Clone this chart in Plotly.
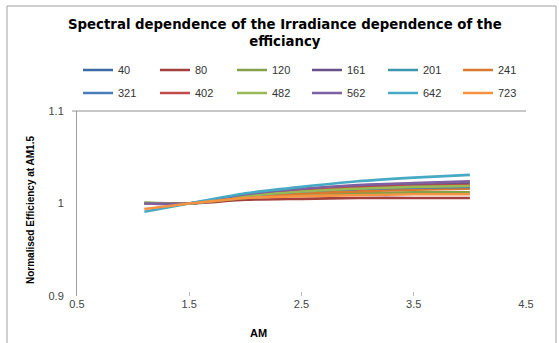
import plotly.graph_objects as go

# ---- data ----
air_mass = [1.1, 1.5, 2.0, 2.5, 3.0, 3.5, 4.0]
series_names = ["40", "80", "120", "161", "201", "241",
                "321", "402", "482", "562", "642", "723"]
eff_40  = [1.000, 1.000, 1.008, 1.012, 1.015, 1.016, 1.017]
eff_80  = [1.000, 1.000, 1.004, 1.005, 1.006, 1.006, 1.006]
eff_120 = [1.001, 1.000, 1.006, 1.009, 1.011, 1.012, 1.012]
eff_161 = [1.000, 1.000, 1.009, 1.014, 1.018, 1.020, 1.022]
eff_201 = [1.000, 1.000, 1.008, 1.013, 1.016, 1.018, 1.019]
eff_241 = [1.000, 1.000, 1.007, 1.011, 1.013, 1.015, 1.016]
eff_321 = [1.000, 1.000, 1.008, 1.013, 1.016, 1.017, 1.018]
eff_402 = [1.000, 1.000, 1.009, 1.014, 1.017, 1.019, 1.020]
eff_482 = [1.000, 1.000, 1.008, 1.013, 1.016, 1.018, 1.019]
eff_562 = [1.000, 1.000, 1.010, 1.016, 1.020, 1.022, 1.024]
eff_642 = [0.991, 1.000, 1.011, 1.018, 1.024, 1.028, 1.031]
eff_723 = [0.994, 1.000, 1.006, 1.008, 1.009, 1.010, 1.010]
all_series = [eff_40, eff_80, eff_120, eff_161, eff_201, eff_241,
              eff_321, eff_402, eff_482, eff_562, eff_642, eff_723]
x_ticks = [0.5, 1.5, 2.5, 3.5, 4.5]
y_ticks = [0.9, 1.0, 1.1]
y_tick_labels = ["0.9", "1", "1.1"]

colors = ["#3C6AA5", "#A3403D", "#83A04A", "#6A5189", "#3A95AD", "#D9782F",
          "#4A7EBB", "#BE4B48", "#98B954", "#7D60A0", "#46AAC5", "#F69240"]

W, H = 559, 343
L, R, T, B = 77, 33, 111, 47
pw, ph = W - L - R, H - T - B

def px_x(x):
    return (x - L) / pw

def px_y(y):
    return 1 - (y - T) / ph

# legend layout (pixel positions of the legend columns / rows)
leg_cols = [82, 159, 236, 311, 387, 462]
leg_rows = [70, 93]

fig = go.Figure()
legends = {}
for i, (name, vals) in enumerate(zip(series_names, all_series)):
    key = "legend" if i == 0 else f"legend{i + 1}"
    fig.add_trace(go.Scatter(
        x=air_mass, y=vals, name=name, mode="lines",
        line=dict(color=colors[i], width=2.6, shape="spline", smoothing=0.6),
        legend=key,
    ))
    legends[key] = dict(
        orientation="h", xanchor="left", yanchor="middle",
        x=px_x(leg_cols[i % 6] - 6 + 2), y=px_y(leg_rows[i // 6]),
        itemwidth=30,
        font=dict(family="Liberation Sans", size=11, color="#333333"),
        bgcolor="rgba(0,0,0,0)",
    )

fig.update_layout(
    width=W, height=H,
    margin=dict(l=L, r=R, t=T, b=B, autoexpand=False),
    paper_bgcolor="white", plot_bgcolor="white",
    showlegend=True,
    **legends,
    xaxis=dict(range=[0.5, 4.5], tickvals=x_ticks, ticktext=[str(v) for v in x_ticks],
               showgrid=False, zeroline=False, showline=False,
               ticks="inside", ticklen=4, tickcolor="#BBBBBB",
               tickfont=dict(family="Liberation Sans", size=11, color="#444444")),
    yaxis=dict(range=[0.9, 1.1], tickvals=y_ticks, ticktext=y_tick_labels,
               showgrid=False, zeroline=False, showline=True, linecolor="#A0A0A0",
               linewidth=1, ticks="", ticklabelstandoff=10,
               tickfont=dict(family="Liberation Sans", size=11, color="#444444")),
    annotations=[
        dict(text="<b>Spectral dependence of the Irradiance dependence of the<br>efficiancy</b>",
             xref="paper", yref="paper", x=px_x(285), y=px_y(33),
             xanchor="center", yanchor="middle", showarrow=False,
             font=dict(family="DejaVu Sans", size=13.3, color="#000000")),
        dict(text="<b>Normalised Efficiency at AM1.5</b>", textangle=-90,
             xref="paper", yref="paper", x=px_x(30), y=px_y(210),
             xanchor="center", yanchor="middle", showarrow=False,
             font=dict(family="Liberation Sans", size=10, color="#000000")),
        dict(text="<b>AM</b>",
             xref="paper", yref="paper", x=px_x(258), y=px_y(333),
             xanchor="center", yanchor="middle", showarrow=False,
             font=dict(family="Liberation Sans", size=11, color="#000000")),
    ],
    shapes=[
        dict(type="line", xref="paper", yref="paper",
             x0=px_x(72), x1=1, y0=1, y1=1,
             line=dict(color="#909090", width=1)),
        dict(type="rect", xref="paper", yref="paper",
             x0=px_x(7), x1=px_x(556), y0=px_y(6), y1=px_y(350),
             line=dict(color="#A0A0A0", width=1)),
    ],
)

fig.write_html("out.html", config={"displayModeBar": False},
               post_script="document.body.style.margin='0';")
